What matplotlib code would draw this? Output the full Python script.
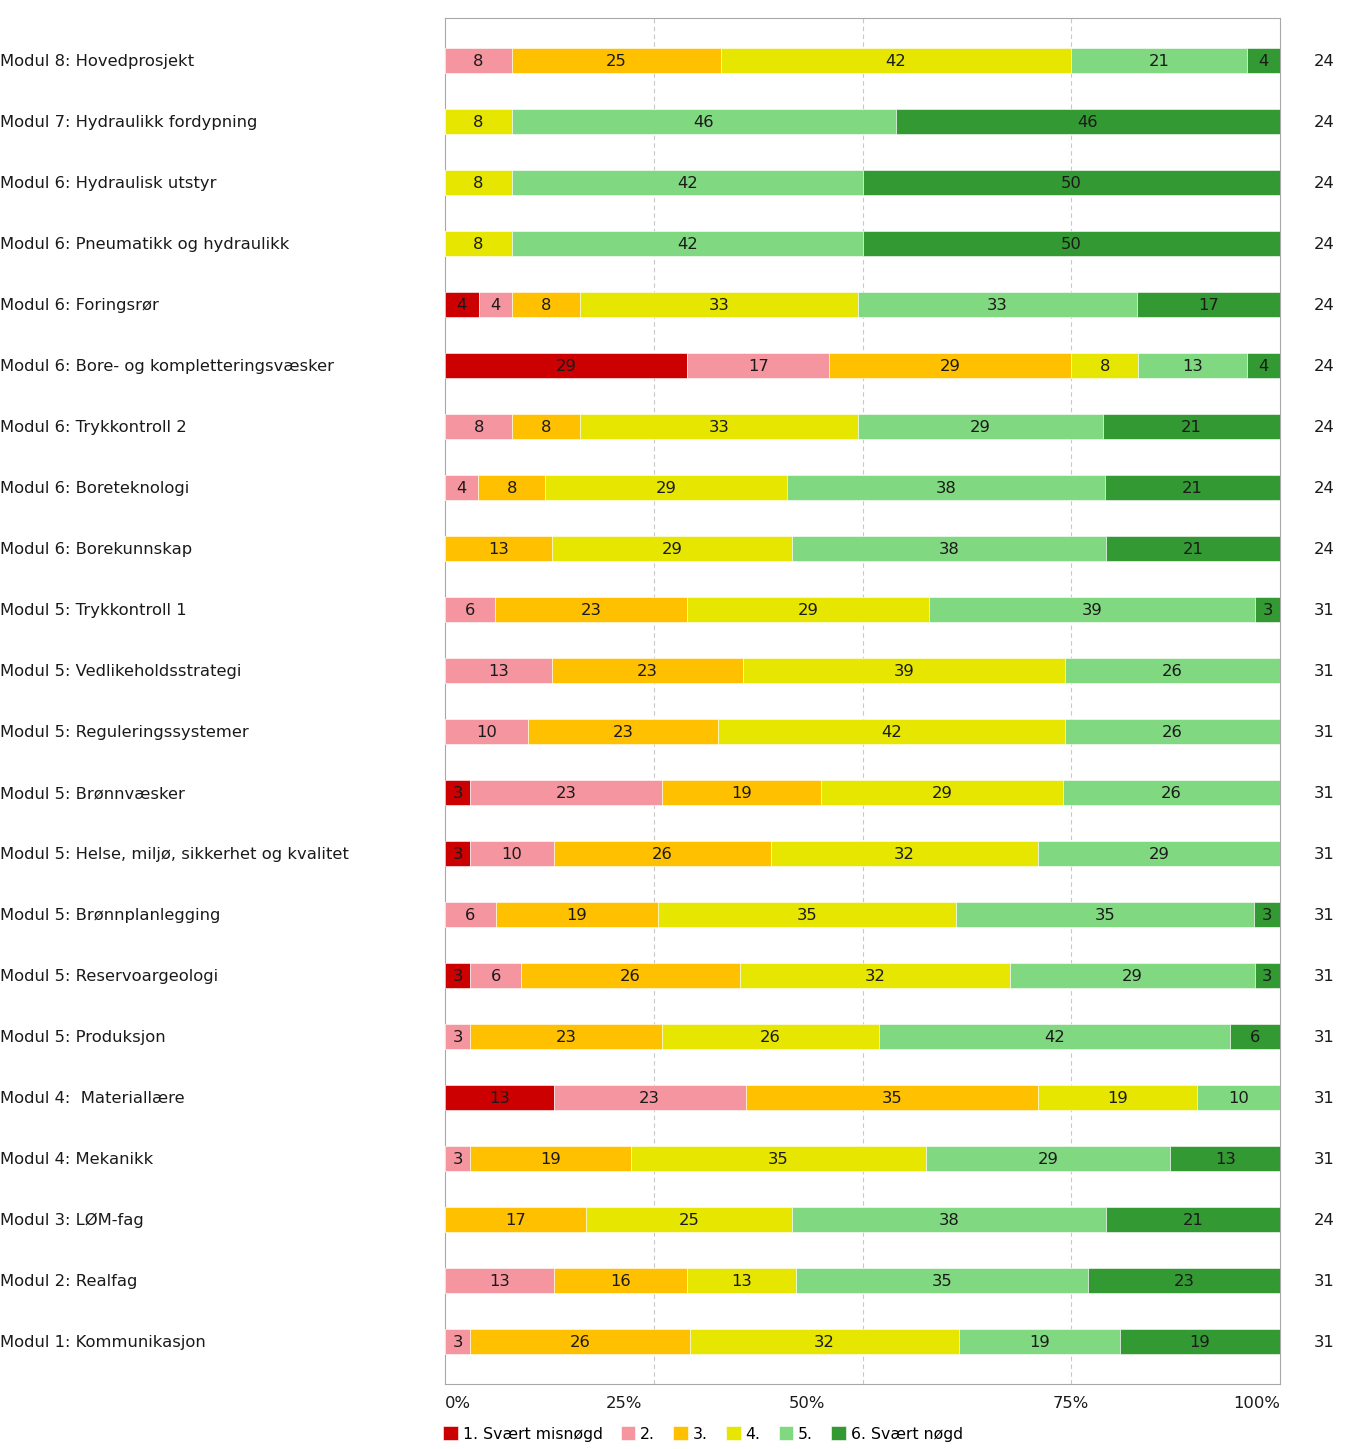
import numpy as np
import matplotlib
matplotlib.use('Agg')
from matplotlib import pyplot as plt
from matplotlib.transforms import blended_transform_factory

modules = [
    'Modul 8: Hovedprosjekt',
    'Modul 7: Hydraulikk fordypning',
    'Modul 6: Hydraulisk utstyr',
    'Modul 6: Pneumatikk og hydraulikk',
    'Modul 6: Foringsrør',
    'Modul 6: Bore- og kompletteringsvæsker',
    'Modul 6: Trykkontroll 2',
    'Modul 6: Boreteknologi',
    'Modul 6: Borekunnskap',
    'Modul 5: Trykkontroll 1',
    'Modul 5: Vedlikeholdsstrategi',
    'Modul 5: Reguleringssystemer',
    'Modul 5: Brønnvæsker',
    'Modul 5: Helse, miljø, sikkerhet og kvalitet',
    'Modul 5: Brønnplanlegging',
    'Modul 5: Reservoargeologi',
    'Modul 5: Produksjon',
    'Modul 4:  Materiallære',
    'Modul 4: Mekanikk',
    'Modul 3: LØM-fag',
    'Modul 2: Realfag',
    'Modul 1: Kommunikasjon',
]

# percent per answer category, one list per category (top row first)
s1 = [0, 0, 0, 0, 4, 29, 0, 0, 0, 0, 0, 0, 3, 3, 0, 3, 0, 13, 0, 0, 0, 0]
s2 = [8, 0, 0, 0, 4, 17, 8, 4, 0, 6, 13, 10, 23, 10, 6, 6, 3, 23, 3, 0, 13, 3]
s3 = [25, 0, 0, 0, 8, 29, 8, 8, 13, 23, 23, 23, 19, 26, 19, 26, 23, 35, 19, 17, 16, 26]
s4 = [42, 8, 8, 8, 33, 8, 33, 29, 29, 29, 39, 42, 29, 32, 35, 32, 26, 19, 35, 25, 13, 32]
s5 = [21, 46, 42, 42, 33, 13, 29, 38, 38, 39, 26, 26, 26, 29, 35, 29, 42, 10, 29, 38, 35, 19]
s6 = [4, 46, 50, 50, 17, 4, 21, 21, 21, 3, 0, 0, 0, 0, 3, 3, 6, 0, 13, 21, 23, 19]
n_resp = [24, 24, 24, 24, 24, 24, 24, 24, 24, 31, 31, 31, 31, 31, 31, 31, 31, 31, 31, 24, 31, 31]

categories = ['1. Svært misnøgd', '2.', '3.', '4.', '5.', '6. Svært nøgd']
colors = ['#CC0000', '#F595A0', '#FFC000', '#E6E600', '#80D880', '#339933']

data = np.array([s1, s2, s3, s4, s5, s6], dtype=float)
widths = data / data.sum(axis=0) * 100

FS = 11.8
TXT = '#1a1a1a'

fig = plt.figure(figsize=(13.47, 14.49), dpi=100)
ax = fig.add_axes([445/1347, 1 - 1384/1449, 835/1347, 1366/1449])

y = np.arange(len(modules))
left = np.zeros(len(modules))
handles = []
for i in range(6):
    b = ax.barh(y, widths[i], left=left, height=0.41, color=colors[i],
                edgecolor='white', linewidth=0.4, label=categories[i], zorder=3)
    handles.append(b)
    for j in range(len(modules)):
        if data[i, j] > 0:
            ax.text(left[j] + widths[i, j] / 2, y[j] + 0.02, '%d' % data[i, j],
                    ha='center', va='center', fontsize=FS, color=TXT, zorder=4)
    left += widths[i]

ax.set_xlim(0, 100)
ax.set_ylim(len(modules) - 0.3, -0.7)
ax.set_xticks([25, 50, 75])
ax.set_xticklabels([])
ax.tick_params(length=0)
ax.set_yticks([])
ax.grid(axis='x', color='#C8C8C8', linestyle=(0, (4, 3)), linewidth=0.8, zorder=0)
for sp in ax.spines.values():
    sp.set_color('#A8A8A8')

# tick labels as in the original export
xt = blended_transform_factory(ax.transData, ax.transAxes)
for pos, lab, ha in [(0, '0%', 'left'), (21.4, '25%', 'center'), (43.4, '50%', 'center'),
                     (74.9, '75%', 'center'), (100, '100%', 'right')]:
    ax.text(pos, -0.0145, lab, transform=xt, ha=ha, va='center', fontsize=FS, color=TXT)

yt = blended_transform_factory(ax.transAxes, ax.transData)
for j in range(len(modules)):
    ax.text(-445/835, y[j] + 0.02, modules[j], transform=yt, ha='left', va='center',
            fontsize=FS, color=TXT)
    ax.text(1.0527, y[j] + 0.02, str(n_resp[j]), transform=yt, ha='center', va='center',
            fontsize=FS, color=TXT)

fig.legend(handles=handles, labels=categories, loc='center left', ncol=6,
           bbox_to_anchor=(443/1347, 1 - 1434/1449), frameon=False, fontsize=11.3,
           handlelength=0.95, handleheight=0.95, handletextpad=0.3, columnspacing=1.15,
           borderpad=0, borderaxespad=0)

fig.savefig('out.png', dpi=100)
